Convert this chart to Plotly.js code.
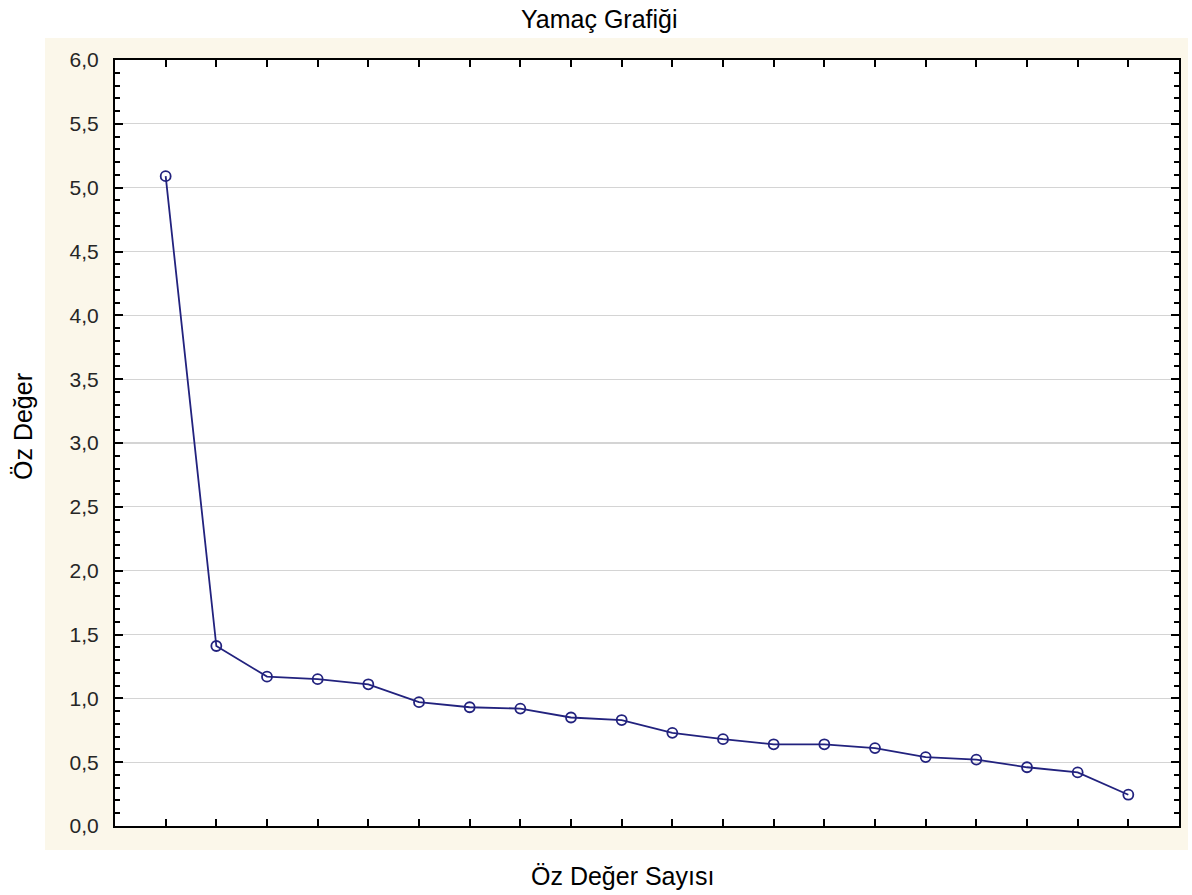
<!DOCTYPE html>
<html>
<head>
<meta charset="utf-8">
<script src="https://cdn.plot.ly/plotly-3.0.1.min.js"></script>
<style>html,body{margin:0;padding:0;background:#fff;}#chart{width:1192px;height:895px;}</style>
</head>
<body>
<div id="chart"></div>
<script>
// Data
const eigenNumber = [1,2,3,4,5,6,7,8,9,10,11,12,13,14,15,16,17,18,19,20];
const eigenValue = [5.09,1.41,1.17,1.15,1.11,0.97,0.93,0.92,0.85,0.83,0.73,0.68,0.64,0.64,0.61,0.54,0.52,0.46,0.42,0.245];
const yTickVals = [0,0.5,1,1.5,2,2.5,3,3.5,4,4.5,5,5.5,6];
const yMinorStep = 0.1;
const chartTitle = "Yamaç Grafiği";
const xTitle = "Öz Değer Sayısı";
const yTitle = "Öz Değer";

const W = 1192, H = 895;
const L = 115, R = 13, T = 60, B = 69;
const pw = W - L - R, ph = H - T - B;
const px = x => (x - L) / pw;
const py = y => (H - B - y) / ph;
const yRange = [yTickVals[0], yTickVals[yTickVals.length - 1]];

const navy = '#22227e';
const trace = {
  x: eigenNumber, y: eigenValue, type: 'scatter', mode: 'lines+markers',
  line: {color: navy, width: 1.8},
  marker: {symbol: 'circle-open', size: 10, color: navy, line: {color: navy, width: 1.8}},
  hoverinfo: 'x+y', showlegend: false
};

const font = "Liberation Sans, Arial, sans-serif";
const layout = {
  width: W, height: H,
  margin: {l: L, r: R, t: T, b: B, pad: 0},
  paper_bgcolor: '#ffffff', plot_bgcolor: '#ffffff',
  separators: ',.',
  font: {family: font, color: '#000'},
  xaxis: {
    range: [0, 21], tickvals: eigenNumber, showticklabels: false,
    ticks: 'inside', ticklen: 7, tickwidth: 2, tickcolor: '#000',
    showline: true, linecolor: '#000', linewidth: 2, mirror: 'ticks',
    showgrid: false, zeroline: false, fixedrange: true
  },
  yaxis: {
    range: yRange,
    tickmode: 'linear', tick0: yTickVals[0], dtick: yTickVals[1] - yTickVals[0],
    tickformat: '.1f',
    ticks: 'inside', ticklen: 8, tickwidth: 2, tickcolor: '#000',
    tickfont: {family: font, size: 21, color: '#262626'},
    ticklabelstandoff: 10,
    minor: {dtick: yMinorStep, tick0: 0, ticks: 'inside', ticklen: 5, tickwidth: 2, tickcolor: '#000', showgrid: false},
    showline: true, linecolor: '#000', linewidth: 2, mirror: 'ticks',
    showgrid: true, gridcolor: '#d4d4d4', gridwidth: 1.2, zeroline: false, fixedrange: true
  },
  shapes: [
    {type: 'rect', xref: 'paper', yref: 'paper', layer: 'below',
     x0: px(45), x1: px(1188), y0: py(850), y1: py(38),
     fillcolor: '#fbf7ea', line: {width: 0}},
    {type: 'rect', xref: 'paper', yref: 'paper', layer: 'below',
     x0: 0, x1: 1, y0: 0, y1: 1, fillcolor: '#ffffff', line: {width: 0}}
  ],
  annotations: [
    {text: chartTitle, xref: 'paper', yref: 'paper', x: px(599.5), y: py(19),
     xanchor: 'center', yanchor: 'middle', showarrow: false,
     font: {family: font, size: 25, color: '#000'}},
    {text: xTitle, xref: 'paper', yref: 'paper', x: px(622.5), y: py(876),
     xanchor: 'center', yanchor: 'middle', showarrow: false,
     font: {family: font, size: 25, color: '#000'}},
    {text: yTitle, xref: 'paper', yref: 'paper', x: px(23), y: py(427),
     xanchor: 'center', yanchor: 'middle', showarrow: false, textangle: -90,
     font: {family: font, size: 25, color: '#000'}}
  ]
};

Plotly.newPlot('chart', [trace], layout, {displayModeBar: false, staticPlot: true});
</script>
</body>
</html>
